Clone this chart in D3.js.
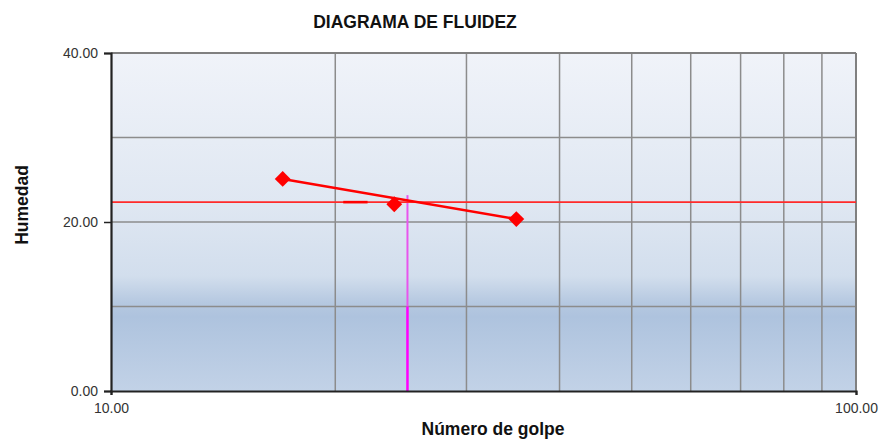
<!DOCTYPE html>
<html>
<head>
<meta charset="utf-8">
<script src="https://cdn.jsdelivr.net/npm/d3@7"></script>
<style>
  html, body { margin: 0; padding: 0; background: #ffffff; }
  svg { display: block; }
  text { font-family: "Liberation Sans", Arial, sans-serif; }
</style>
</head>
<body>
<svg id="chart" width="886" height="443"></svg>
<script>
// Ensayo de límite líquido: número de golpes vs. humedad (%)
const golpes   = [17, 24, 35];
const humedad  = [25.1, 22.1, 20.35];

// Recta de fluidez y límite líquido a 25 golpes
const trendGolpes  = [17, 35];
const trendHumedad = [25.1, 20.35];
const golpesLL  = 25;
const limiteLiq = 22.35;
const marcaLL   = [20.5, 22.1];

const xGrid = [20, 30, 40, 50, 60, 70, 80, 90];
const yGrid = [10, 20, 30];
const yTickLabels = [0, 20, 40];
const xTickLabels = [10, 100];

const margin = { left: 111, right: 886 - 856, top: 53, bottom: 443 - 391 };
const W = 886, H = 443;
const iw = W - margin.left - margin.right;
const ih = H - margin.top - margin.bottom;

const svg = d3.select("#chart");
const x = d3.scaleLog().domain([10, 100]).range([0, iw]);
const y = d3.scaleLinear().domain([0, 40]).range([ih, 0]);

// Fondo degradado del área de trazado
const defs = svg.append("defs");
const grad = defs.append("linearGradient")
  .attr("id", "bg").attr("x1", 0).attr("y1", 0).attr("x2", 0).attr("y2", 1);
[[0, "#f0f3f9"], [0.45, "#dfe7f2"], [0.66, "#d2deed"], [0.74, "#b5c8e0"],
 [0.78, "#aec3de"], [1, "#c2d2e7"]].forEach(([o, c]) =>
  grad.append("stop").attr("offset", o).attr("stop-color", c));

const g = svg.append("g").attr("transform", `translate(${margin.left},${margin.top})`);

g.append("rect").attr("width", iw).attr("height", ih).attr("fill", "url(#bg)");

// Cuadrícula
g.selectAll(".gx").data(xGrid).enter().append("line")
  .attr("x1", d => x(d)).attr("x2", d => x(d))
  .attr("y1", 0).attr("y2", ih)
  .attr("stroke", "#8c8c8c").attr("stroke-width", 1.5);
g.selectAll(".gy").data(yGrid).enter().append("line")
  .attr("x1", 0).attr("x2", iw)
  .attr("y1", d => y(d)).attr("y2", d => y(d))
  .attr("stroke", "#8c8c8c").attr("stroke-width", 1.5);

// Borde superior y derecho
g.append("line").attr("x1", 0).attr("x2", iw).attr("y1", 0).attr("y2", 0)
  .attr("stroke", "#808080").attr("stroke-width", 2);
g.append("line").attr("x1", iw).attr("x2", iw).attr("y1", 0).attr("y2", ih)
  .attr("stroke", "#808080").attr("stroke-width", 2);

// Línea vertical a 25 golpes
g.append("line")
  .attr("x1", x(golpesLL)).attr("x2", x(golpesLL))
  .attr("y1", y(limiteLiq) - 7).attr("y2", y(10))
  .attr("stroke", "#e855ee").attr("stroke-width", 2);
g.append("line")
  .attr("x1", x(golpesLL)).attr("x2", x(golpesLL))
  .attr("y1", y(10)).attr("y2", ih)
  .attr("stroke", "#ff00ff").attr("stroke-width", 2.5);

// Línea horizontal del límite líquido
g.append("line")
  .attr("x1", 0).attr("x2", iw)
  .attr("y1", y(limiteLiq)).attr("y2", y(limiteLiq))
  .attr("stroke", "#ff2a2a").attr("stroke-width", 1.8);
g.append("line")
  .attr("x1", x(marcaLL[0])).attr("x2", x(marcaLL[1]))
  .attr("y1", y(limiteLiq)).attr("y2", y(limiteLiq))
  .attr("stroke", "#ff0000").attr("stroke-width", 2.6);

// Recta de fluidez
const line = d3.line().x(d => x(d[0])).y(d => y(d[1]));
g.append("path")
  .datum(d3.zip(trendGolpes, trendHumedad))
  .attr("d", line)
  .attr("fill", "none").attr("stroke", "#ff0000").attr("stroke-width", 2.5);

// Puntos del ensayo (rombos)
g.selectAll(".pt").data(d3.zip(golpes, humedad)).enter().append("path")
  .attr("d", d3.symbol().type(d3.symbolSquare).size(125))
  .attr("transform", d => `translate(${x(d[0])},${y(d[1])}) rotate(45)`)
  .attr("fill", "#ff0000");

// Ejes
const yAxis = d3.axisLeft(y).tickValues(yTickLabels).tickFormat(d3.format(".2f"))
  .tickSize(7).tickPadding(6);
const yg = g.append("g").call(yAxis);
yg.select(".domain").attr("stroke", "#222").attr("stroke-width", 2.2);
yg.selectAll(".tick line").attr("stroke", "#222").attr("stroke-width", 1.5);
yg.selectAll(".tick text").attr("font-size", 14).attr("fill", "#333")
  .attr("font-family", "Liberation Sans, Arial, sans-serif");

const xAxis = d3.axisBottom(x).tickValues(xTickLabels).tickFormat(d3.format(".2f"))
  .tickSize(4).tickPadding(8);
const xg = g.append("g").attr("transform", `translate(0,${ih})`).call(xAxis);
xg.select(".domain").attr("stroke", "#222").attr("stroke-width", 2.2);
xg.selectAll(".tick line").attr("stroke", "#222").attr("stroke-width", 1.5);
xg.selectAll(".tick text").attr("font-size", 14).attr("fill", "#333")
  .attr("font-family", "Liberation Sans, Arial, sans-serif");

// Títulos
svg.append("text").attr("x", 415).attr("y", 28).attr("text-anchor", "middle")
  .attr("font-size", 17.5).attr("font-weight", "bold").attr("fill", "#111")
  .text("DIAGRAMA DE FLUIDEZ");
svg.append("text").attr("x", 493).attr("y", 435).attr("text-anchor", "middle")
  .attr("font-size", 17.5).attr("font-weight", "bold").attr("fill", "#111")
  .text("Número de golpe");
svg.append("text").attr("transform", "translate(28,205) rotate(-90)")
  .attr("text-anchor", "middle")
  .attr("font-size", 17.5).attr("font-weight", "bold").attr("fill", "#111")
  .text("Humedad");
</script>
</body>
</html>
